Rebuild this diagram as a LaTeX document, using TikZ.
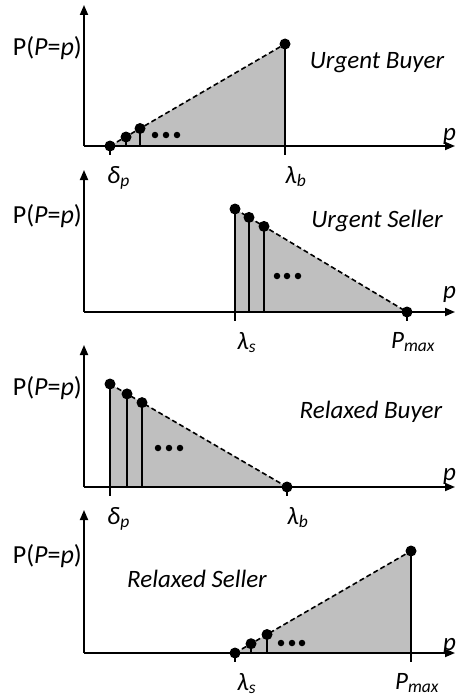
\documentclass[tikz,border=0pt]{standalone}
\usepackage{fontspec}
\setmainfont{Carlito}
\usetikzlibrary{arrows.meta}
\usetikzlibrary{positioning}
\definecolor{areagray}{RGB}{191,191,191}

\begin{document}
\begin{tikzpicture}[x=1pt,y=-1pt,
            axis/.style={-{Triangle[length=10pt,width=8pt]}, line width=1.8pt},
            stem/.style={line width=1.4pt},
            pnt/.style={circle, fill=black, inner sep=0pt, minimum size=11pt},
            more/.style={circle, fill=black, inner sep=0pt, minimum size=6.5pt},
            trend/.style={line width=1.6pt, dash pattern=on 5pt off 3pt},
            ylabel/.style={font=\fontsize{26}{30}\selectfont, anchor=base east, inner sep=0pt},
            xlabel/.style={font=\fontsize{25}{28}\selectfont\itshape, anchor=base west, inner sep=0pt},
            kind/.style={font=\fontsize{25}{29}\selectfont\itshape, anchor=base, inner sep=0pt},
            value/.style={font=\fontsize{25}{29}\selectfont\itshape, inner sep=0pt}
        ]
            \useasboundingbox (0,0) rectangle (456,698);

            % Urgent Buyer
            \coordinate (o1) at (84,146);
            \coordinate (y1) at (84,5);
            \coordinate (x1) at (455,146);
            \coordinate (a1) at (110,146);
            \coordinate (b1) at (126,137);
            \coordinate (c1) at (140,128.5);
            \coordinate (d1) at (285,44);
            \coordinate (ta1) at (110,155);
            \coordinate (td1) at (285,155);

            \fill[areagray] (a1) -- (d1) -- (d1 |- o1) -- cycle;
            \draw[trend] (a1) -- (d1);
            \draw[axis] (o1) -- (y1);
            \draw[axis] (o1) -- (x1);
            \draw[stem] (a1) -- (ta1);
            \draw[stem] (b1) -- (b1 |- o1);
            \draw[stem] (c1) -- (c1 |- o1);
            \draw[stem] (d1) -- (td1);
            \foreach \p in {a1,b1,c1,d1}
                \node[pnt] (\p-dot) at (\p) {};
            \foreach \x in {155,166,177}
                \node[more] (m1-\x) at (\x,135) {};

            \node[ylabel] (yl1) at (82,56) {P(\textit{P}=\textit{p})};
            \node[xlabel] (xl1) at (443,140) {p};
            \node[kind] (k1) at (377,69) {Urgent Buyer};
            \node[value, below=11pt of ta1, anchor=north west, xshift=-3pt] (la1) {δ\textsubscript{p}};
            \node[value, below=11pt of td1, anchor=north west] (ld1) {λ\textsubscript{b}};

            % Urgent Seller
            \coordinate (o2) at (84,312);
            \coordinate (y2) at (84,170);
            \coordinate (x2) at (455,312);
            \coordinate (a2) at (235,209);
            \coordinate (b2) at (249,217.4);
            \coordinate (c2) at (264,226.4);
            \coordinate (e2) at (407,312);
            \coordinate (ta2) at (235,321);
            \coordinate (te2) at (407,321);

            \fill[areagray] (a2 |- o2) -- (a2) -- (e2) -- cycle;
            \draw[trend] (a2) -- (e2);
            \draw[axis] (o2) -- (y2);
            \draw[axis] (o2) -- (x2);
            \draw[stem] (a2) -- (ta2);
            \draw[stem] (b2) -- (b2 |- o2);
            \draw[stem] (c2) -- (c2 |- o2);
            \draw[stem] (e2) -- (te2);
            \foreach \p in {a2,b2,c2,e2}
                \node[pnt] (\p-dot) at (\p) {};
            \foreach \x in {277,287,298}
                \node[more] (m2-\x) at (\x,276) {};

            \node[ylabel] (yl2) at (82,223) {P(\textit{P}=\textit{p})};
            \node[xlabel] (xl2) at (443,298) {p};
            \node[kind] (k2) at (377,227) {Urgent Seller};
            \node[value, below=11pt of ta2, anchor=north west, xshift=2pt] (la2) {λ\textsubscript{s}};
            \node[value, below=11pt of te2, xshift=6pt] (le2) {P\textsubscript{max}};

            % Relaxed Buyer
            \coordinate (o3) at (84,487);
            \coordinate (y3) at (84,345);
            \coordinate (x3) at (455,487);
            \coordinate (a3) at (110,384);
            \coordinate (b3) at (127,393.9);
            \coordinate (c3) at (142,402.6);
            \coordinate (e3) at (287,487);
            \coordinate (ta3) at (110,496);
            \coordinate (te3) at (287,496);

            \fill[areagray] (a3 |- o3) -- (a3) -- (e3) -- cycle;
            \draw[trend] (a3) -- (e3);
            \draw[axis] (o3) -- (y3);
            \draw[axis] (o3) -- (x3);
            \draw[stem] (a3) -- (ta3);
            \draw[stem] (b3) -- (b3 |- o3);
            \draw[stem] (c3) -- (c3 |- o3);
            \draw[stem] (e3) -- (te3);
            \foreach \p in {a3,b3,c3,e3}
                \node[pnt] (\p-dot) at (\p) {};
            \foreach \x in {158,169,180}
                \node[more] (m3-\x) at (\x,448) {};

            \node[ylabel] (yl3) at (82,395) {P(\textit{P}=\textit{p})};
            \node[xlabel] (xl3) at (443,480) {p};
            \node[kind] (k3) at (371,418) {Relaxed Buyer};
            \node[value, below=11pt of ta3, anchor=north west, xshift=-3pt] (la3) {δ\textsubscript{p}};
            \node[value, below=11pt of te3, anchor=north west] (le3) {λ\textsubscript{b}};

            % Relaxed Seller
            \coordinate (o4) at (84,653);
            \coordinate (y4) at (84,510);
            \coordinate (x4) at (455,653);
            \coordinate (a4) at (235,653);
            \coordinate (b4) at (251,643.7);
            \coordinate (c4) at (267,634.5);
            \coordinate (e4) at (411,551);
            \coordinate (ta4) at (235,662);
            \coordinate (te4) at (411,662);

            \fill[areagray] (a4) -- (e4) -- (e4 |- o4) -- cycle;
            \draw[trend] (a4) -- (e4);
            \draw[axis] (o4) -- (y4);
            \draw[axis] (o4) -- (x4);
            \draw[stem] (a4) -- (ta4);
            \draw[stem] (b4) -- (b4 |- o4);
            \draw[stem] (c4) -- (c4 |- o4);
            \draw[stem] (e4) -- (te4);
            \foreach \p in {a4,b4,c4,e4}
                \node[pnt] (\p-dot) at (\p) {};
            \foreach \x in {281,292,302}
                \node[more] (m4-\x) at (\x,643) {};

            \node[ylabel] (yl4) at (82,563) {P(\textit{P}=\textit{p})};
            \node[xlabel] (xl4) at (443,650) {p};
            \node[kind] (k4) at (197,587) {Relaxed Seller};
            \node[value, below=11pt of ta4, anchor=north west, xshift=2pt] (la4) {λ\textsubscript{s}};
            \node[value, below=11pt of te4, xshift=6pt] (le4) {P\textsubscript{max}};
        \end{tikzpicture}
\end{document}
